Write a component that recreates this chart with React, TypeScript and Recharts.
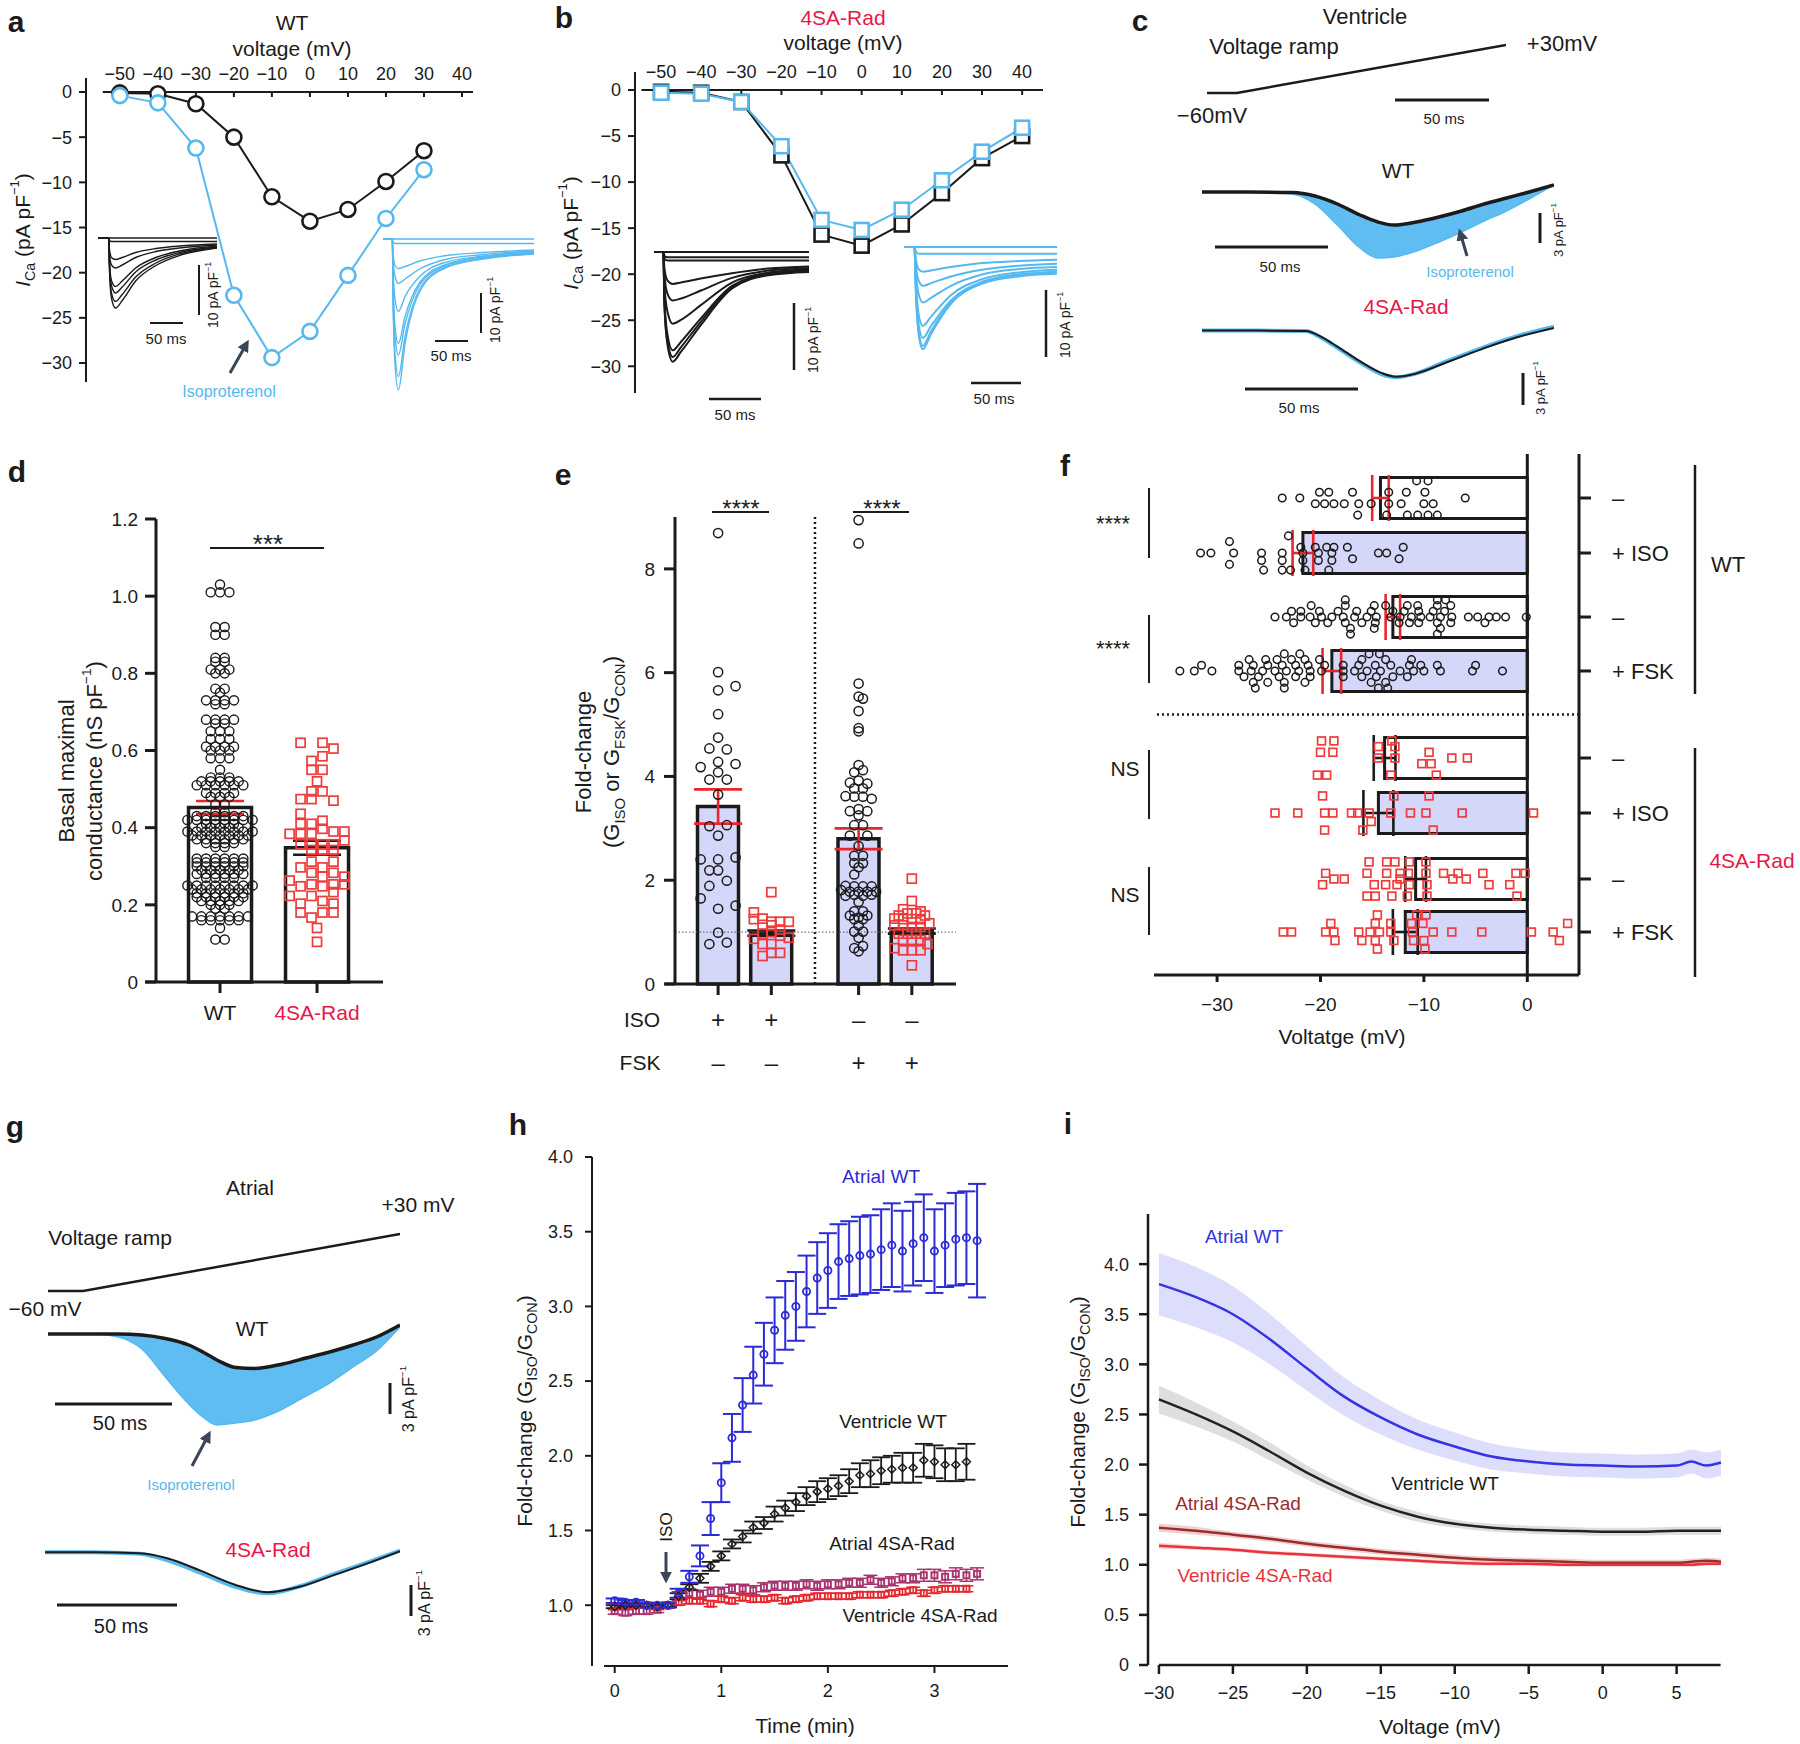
import React from 'react';
import {
  ComposedChart, LineChart, Line, Bar, Cell, Scatter, Area, XAxis, YAxis, ErrorBar, ReferenceLine,
} from 'recharts';

const FONT = '"Liberation Sans", Arial, Helvetica, sans-serif';
const INK = '#1b1b1b';
const SKY = '#55b9ef';
const RED = '#e8174a';
const SQ = '#ef3b3b';
const ERR_RED = '#e8262b';
const LAV = '#d4d7fa';
const ARROW = '#3a4656';

// ---------- a / b : I-V relations
const ivTicks = [-50, -40, -30, -20, -10, 0, 10, 20, 30, 40];
const ivYTicks = [0, -5, -10, -15, -20, -25, -30];
const aVolt = [-50, -40, -30, -20, -10, 0, 10, 20, 30];
const aWtCtrl = [-0.1, -0.2, -1.3, -5.0, -11.6, -14.3, -13.0, -9.9, -6.5];
const aWtIso = [-0.4, -1.2, -6.2, -22.5, -29.4, -26.5, -20.3, -14.0, -8.6];
const bVolt = [-50, -40, -30, -20, -10, 0, 10, 20, 30, 40];
const bRadCtrl = [-0.2, -0.3, -1.3, -7.1, -15.7, -16.9, -14.6, -11.2, -7.4, -5.0];
const bRadIso = [-0.3, -0.4, -1.3, -6.1, -14.1, -15.2, -13.0, -9.8, -6.7, -4.1];

// inset current traces (pA/pF) sampled at the times below (ms)
const aBlackTime = [0, 16, 17, 20, 26, 36, 56, 86, 121, 177];
const aBlackTraces = [
  [0, 0, 0, 0, 0, 0, 0, 0, 0, 0],
  [0, 0, -0.5, -0.7, -0.7, -0.7, -0.7, -0.7, -0.7, -0.7],
  [0, 0, -2.2, -3.9, -4.3, -3.9, -2.9, -2.1, -1.6, -1.2],
  [0, 0, -3, -5.4, -6, -5.4, -3.9, -2.7, -2, -1.4],
  [0, 0, -4.5, -8.5, -9.7, -8.6, -6, -3.9, -2.6, -1.6],
  [0, 0, -5, -9.5, -11, -9.8, -6.8, -4.4, -2.9, -1.8],
  [0, 0, -5.5, -11, -12.7, -11.3, -7.8, -5, -3.2, -1.9],
  [0, 0, -6, -12, -14, -12.5, -8.6, -5.5, -3.5, -2.0],
];
const aBlueTime = [0, 14, 15, 18, 23, 33, 55, 90, 150, 226];
const aBlueTraces = [
  [0, 0, 0, 0, 0, 0, 0, 0, 0, 0],
  [0, 0, -0.6, -0.9, -0.9, -0.9, -0.9, -0.9, -0.9, -0.9],
  [0, 0, -3, -5.3, -5.9, -5.5, -4.4, -3.4, -2.7, -2.2],
  [0, 0, -4, -7.5, -8.9, -8, -6, -4.2, -3.1, -2.4],
  [0, 0, -6, -12, -14.5, -11.5, -7.5, -4.8, -3.4, -2.6],
  [0, 0, -8, -17.5, -20.9, -15.5, -8.7, -5.3, -3.6, -2.7],
  [0, 0, -9, -19.5, -23.2, -17, -9.2, -5.5, -3.7, -2.8],
  [0, 0, -11, -23, -27.5, -19.5, -10, -5.8, -3.9, -2.9],
  [0, 0, -12, -25, -30.2, -21, -10.5, -6, -4, -3],
];
const bBlackTime = [0, 9, 10, 13, 18, 26, 45, 75, 110, 149];
const bBlackTraces = [
  [0, 0, 0, 0, 0, 0, 0, 0, 0, 0],
  [0, 0, -0.6, -0.8, -0.8, -0.8, -0.8, -0.8, -0.8, -0.8],
  [0, 0, -1, -1.3, -1.3, -1.3, -1.3, -1.3, -1.3, -1.3],
  [0, 0, -2.5, -4.3, -4.8, -4.6, -4, -3.2, -2.5, -2.2],
  [0, 0, -3.5, -6.3, -7.3, -7, -5.8, -3.9, -2.8, -2.4],
  [0, 0, -5, -9, -10.8, -10.2, -8, -4.6, -3.1, -2.6],
  [0, 0, -7, -12.5, -14.8, -13.5, -10, -5.1, -3.3, -2.8],
  [0, 0, -7.5, -13.5, -15.8, -14.3, -10.5, -5.3, -3.4, -2.9],
  [0, 0, -8, -14, -16.5, -15, -11, -5.5, -3.5, -3.0],
];
const bBlueTime = [0, 10, 11.5, 14, 18, 26, 45, 75, 110, 147];
const bBlueTraces = [
  [0, 0, 0, 0, 0, 0, 0, 0, 0, 0],
  [0, 0, -0.7, -1, -1, -1, -1, -1, -1, -1],
  [0, 0, -2, -3.3, -3.7, -3.5, -3, -2.4, -2.1, -1.9],
  [0, 0, -3, -5, -5.8, -5.4, -4.4, -3.4, -2.8, -2.5],
  [0, 0, -4, -7, -8.3, -7.6, -5.8, -4.1, -3.3, -3.0],
  [0, 0, -5.5, -10, -11.8, -10.4, -7.2, -4.8, -3.8, -3.4],
  [0, 0, -6.5, -11.5, -13.6, -11.8, -8, -5.2, -4.1, -3.7],
  [0, 0, -7, -12.5, -14.8, -12.6, -8.3, -5.4, -4.3, -3.9],
  [0, 0, -7, -13, -15.3, -13, -8.5, -5.5, -4.4, -4.0],
];

// ---------- c / g : voltage ramp and ramp currents
const rampTime = [0, 10, 100];
const rampVolt = [-60, -60, 30];
const cWtTime = [0, 20, 40, 50, 60, 70, 78, 85, 95, 105, 115, 125, 135, 145, 156];
const cWtCtrl = [0, 0, -0.05, -0.4, -1.2, -2.3, -3.0, -3.3, -3.0, -2.5, -1.9, -1.2, -0.6, 0.0, 0.7];
const cWtIso = [0, 0, -0.2, -1.2, -3.3, -5.6, -6.6, -6.5, -5.9, -5.0, -4.0, -2.9, -1.9, -0.7, 0.7];
const cRadTime = [0, 20, 46, 53, 60, 71, 80, 86, 95, 108, 118, 127, 140, 156];
const cRadCtrl = [0, 0, -0.05, -0.6, -1.5, -3.0, -4.0, -4.3, -4.0, -3.0, -2.2, -1.5, -0.6, 0.25];
const cRadIso = [0, 0, -0.05, -0.7, -1.6, -3.1, -4.1, -4.35, -4.0, -2.9, -2.1, -1.4, -0.5, 0.35];
const gWtTime = [0, 20, 30, 40, 50, 60, 66, 72, 80, 88, 100, 110, 120, 130, 140, 150];
const gWtCtrl = [0, 0, 0, -0.1, -0.45, -1.1, -1.8, -2.6, -3.35, -3.45, -3.0, -2.4, -1.8, -1.1, -0.3, 0.9];
const gWtIso = [0, 0, -0.3, -1.5, -4.3, -7.0, -8.3, -9.1, -8.9, -8.6, -7.5, -6.2, -4.9, -3.3, -1.7, 0.7];
const gRadTime = [0, 20, 40, 52, 66, 80, 94, 108, 122, 136, 150];
const gRadCtrl = [0, 0, -0.1, -0.6, -1.8, -3.1, -3.85, -3.3, -2.2, -1.1, 0.1];
const gRadIso = [0, 0, -0.15, -0.8, -2.0, -3.3, -3.95, -3.25, -2.1, -1.0, 0.15];

// ---------- d : basal maximal conductance
const dCats = ['WT', '4SA-Rad'];
const dMean = [0.452, 0.348];
const dSem = [0.017, 0.018];
// WT cells: [conductance, number of cells at that level]
const dWtRows = [
  [1.03, 1], [1.01, 3], [0.92, 2], [0.90, 2], [0.84, 2], [0.83, 2], [0.81, 3], [0.80, 2], [0.76, 2], [0.75, 1],
  [0.73, 4], [0.72, 2], [0.68, 4], [0.67, 2], [0.65, 3], [0.63, 3], [0.61, 4], [0.60, 3], [0.58, 3], [0.55, 1],
  [0.53, 3], [0.52, 5], [0.51, 6], [0.49, 4], [0.48, 3], [0.46, 2], [0.44, 2], [0.43, 6], [0.42, 8], [0.41, 4],
  [0.40, 5], [0.39, 8], [0.38, 7], [0.37, 6], [0.36, 4], [0.35, 2], [0.32, 6], [0.31, 6], [0.30, 6], [0.29, 5],
  [0.28, 6], [0.27, 4], [0.25, 8], [0.24, 7], [0.23, 6], [0.22, 6], [0.21, 5], [0.20, 3], [0.19, 2], [0.17, 7],
  [0.16, 5], [0.14, 1], [0.11, 2],
];
// 4SA-Rad cells: [conductance, column]
const dRadCells = [
  [0.62, -1.5], [0.62, 0.5], [0.605, 1.5], [0.585, 0.5], [0.573, -0.5], [0.55, -0.5], [0.55, 0.5], [0.52, 0],
  [0.494, -0.5], [0.494, 0.5], [0.474, -1.5], [0.474, -0.5], [0.47, 1.5], [0.436, -1.5], [0.418, 0.5], [0.41, -1.5],
  [0.41, -0.5], [0.397, 0.5], [0.39, 1.5], [0.39, 2.5], [0.384, -2.5], [0.384, -1.5], [0.384, -0.5], [0.367, 2.5],
  [0.357, -1.5], [0.357, -0.5], [0.357, 0.5], [0.357, 1.5], [0.342, -0.5], [0.342, 0.5], [0.342, 1.5], [0.312, -0.5],
  [0.312, 1.5], [0.297, -1.5], [0.297, 0.5], [0.283, -0.5], [0.283, 1.5], [0.273, 0.5], [0.273, 2.5], [0.263, -2.5],
  [0.253, -0.5], [0.253, 1.5], [0.253, 2.5], [0.248, -1.5], [0.248, 0.5], [0.233, 1.5], [0.223, -2.5], [0.223, -0.5],
  [0.21, 0.5], [0.203, -1.5], [0.203, 1.5], [0.18, -1.5], [0.18, 0.5], [0.18, 1.5], [0.167, -0.5], [0.14, 0], [0.104, 0],
];

// ---------- e : fold change of conductance
const eIso = ['+', '+', '\u2013', '\u2013'];
const eFsk = ['\u2013', '\u2013', '+', '+'];
const eMean = [3.42, 0.98, 2.8, 1.02];
const eSem = [0.33, 0.05, 0.2, 0.05];
const eWtIso = [
  [8.69, 0], [6.01, 0], [5.74, 2], [5.66, 0], [5.2, 0], [4.75, 0], [4.54, -1], [4.52, 1], [4.28, 0], [4.24, 2],
  [4.18, -2], [4.08, 0], [3.94, -1], [3.94, 1], [3.65, 0], [3.04, -1], [3.06, 1], [2.86, 0], [2.44, 2], [2.4, -2],
  [2.4, 0], [2.19, -1], [2.19, 0], [1.99, 1], [1.89, -1], [1.65, -2], [1.51, 2], [1.45, 0], [0.99, 0], [0.77, -1], [0.8, 1],
];
const eRadIso = [
  [1.77, 0], [1.38, -2], [1.25, -2], [1.26, -1], [1.2, 0], [1.2, 1], [1.2, 2], [1.14, -1], [1.13, 0], [0.87, -2],
  [0.97, -1], [0.93, 1], [0.89, 2], [0.77, -1], [0.77, 0], [0.6, 1], [0.6, 0], [0.54, -1], [1.05, 1], [1.0, 0],
];
const eWtFsk = [
  [8.94, 0], [8.49, 0], [5.79, 0], [5.54, 0], [5.5, 0.5], [5.26, 0], [4.93, 0], [4.87, 0], [4.22, 0], [4.12, 0.5],
  [4.08, -0.5], [3.92, 0], [3.88, -1], [3.86, 1], [3.77, -0.5], [3.77, 0.5], [3.62, -1.5], [3.61, -0.5], [3.61, 0.5],
  [3.57, 1.5], [3.37, 0], [3.33, -1], [3.33, 1], [3.25, 0], [3.06, -0.5], [3.06, 0.5], [2.86, -1], [2.86, 1], [2.66, 0],
  [2.47, -0.5], [2.47, 0.5], [2.33, -0.5], [2.33, 0.5], [2.25, 0], [2.11, -0.5], [1.89, -1.5], [1.88, -0.5], [1.88, 0.5],
  [1.88, 1.5], [1.81, -2], [1.78, -1], [1.78, 0], [1.78, 1], [1.78, 2], [1.7, -1.5], [1.72, -0.5], [1.7, 0.5],
  [1.72, 1.5], [1.58, 0], [1.4, -0.5], [1.4, 0.5], [1.32, -1], [1.28, 0], [1.32, 1], [1.25, -0.5], [1.25, 0.5],
  [1.13, 0], [1.01, -0.5], [1.01, 0.5], [0.89, 0], [0.69, -0.5], [0.73, 0.5], [0.63, 0],
];
const eRadFsk = [
  [2.03, 0], [1.6, 0], [1.44, -1], [1.4, 1], [1.32, -1.5], [1.36, -0.5], [1.36, 0.5], [1.32, 1.5], [1.26, -2],
  [1.25, -1], [1.25, 0], [1.25, 1], [1.17, 2], [1.13, -2], [1.13, -1], [1.1, 0], [1.1, 1], [0.97, -1.5], [0.97, -0.5],
  [0.97, 0.5], [0.97, 1.5], [0.85, -1], [0.85, 0], [0.85, 1], [0.77, 1.8], [0.69, -2], [0.65, -1], [0.65, 0],
  [0.65, 1], [0.36, 0],
];

// ---------- f : half-activation voltage, [mV, vertical offset]
const fRowLabels = ['\u2013', '+ ISO', '\u2013', '+ FSK', '\u2013', '+ ISO', '\u2013', '+ FSK'];
const fMean = [-14.2, -21.7, -13.0, -18.9, -13.8, -14.4, -10.8, -11.8];
const fSem = [0.8, 1.0, 0.7, 0.9, 1.05, 1.45, 1.0, 1.2];
const fWtCtrlIso = [[-10.7, -3], [-9.6, -3], [-20.1, -1], [-19.2, -1], [-16.9, -1], [-13.4, -1], [-11.7, -1], [-9.9, -1], [-23.7, 0], [-22.0, 0], [-6.0, 0], [-20.5, 1], [-19.6, 1], [-18.7, 1], [-17.7, 1], [-16.3, 1], [-15.1, 1], [-13.4, 1], [-12.2, 1], [-10.0, 1], [-9.1, 1], [-16.4, 3], [-13.6, 3], [-11.6, 3], [-10.6, 3], [-9.6, 3], [-8.7, 3]];
const fWtIso = [[-23.1, -3], [-28.8, -2], [-21.9, -1], [-20.5, -1], [-19.4, -1], [-18.7, -1], [-17.4, -1], [-12.0, -1], [-31.6, 0], [-30.6, 0], [-28.4, 0], [-25.7, 0], [-23.7, 0], [-21.7, 0], [-20.2, 0], [-18.9, 0], [-14.4, 0], [-13.6, 0], [-12.4, 1], [-16.9, 1], [-18.9, 1.3], [-20.2, 1.3], [-21.7, 1.3], [-23.7, 1.3], [-25.7, 1.3], [-28.8, 2], [-25.5, 3], [-23.7, 3], [-22.9, 3], [-21.5, 3], [-19.2, 3]];
const fWtCtrlFsk = [[-17.6, -3], [-8.7, -3], [-7.9, -3], [-20.9, -2], [-17.6, -2], [-14.8, -2], [-13.7, -2], [-11.6, -2], [-10.6, -2], [-8.7, -2], [-7.4, -2], [-22.8, -1], [-21.9, -1], [-20.1, -1], [-18.3, -1], [-16.5, -1], [-15.1, -1], [-13.0, -1], [-11.9, -1], [-10.5, -1], [-9.1, -1], [-8.0, -1], [-24.4, 0], [-23.3, 0], [-21.9, 0], [-21.0, 0], [-19.9, 0], [-18.9, 0], [-17.8, 0], [-16.7, 0], [-15.5, 0], [-14.6, 0], [-13.2, 0], [-12.3, 0], [-11.2, 0], [-10.3, 0], [-9.4, 0], [-8.4, 0], [-7.3, 0], [-5.7, 0], [-4.8, 0], [-3.7, 0], [-3.0, 0], [-2.1, 0], [-0.1, 0], [-22.6, 1], [-20.5, 1], [-19.3, 1], [-17.6, 1], [-16.0, 1], [-14.7, 1], [-12.4, 1], [-11.4, 1], [-10.5, 1], [-8.7, 1], [-7.4, 1], [-4.1, 1], [-17.1, 2], [-14.8, 2], [-8.4, 2], [-17.1, 3], [-8.7, 3]];
const fWtFsk = [[-23.5, -3], [-22.0, -3], [-15.3, -3], [-14.3, -3], [-26.9, -2], [-25.3, -2], [-24.2, -2], [-22.8, -2], [-21.5, -2], [-20.1, -2], [-16.0, -2], [-13.7, -2], [-11.2, -2], [-31.5, -1], [-27.9, -1], [-26.5, -1], [-25.1, -1], [-23.7, -1], [-22.4, -1], [-21.2, -1], [-19.6, -1], [-17.8, -1], [-16.3, -1], [-14.7, -1], [-13.2, -1], [-11.4, -1], [-10.3, -1], [-8.7, -1], [-5.0, -1], [-33.6, 0], [-32.2, 0], [-30.5, 0], [-27.9, 0], [-26.7, 0], [-25.6, 0], [-24.4, 0], [-23.3, 0], [-22.1, 0], [-21.0, 0], [-19.9, 0], [-17.8, 0], [-16.7, 0], [-15.5, 0], [-14.2, 0], [-12.3, 0], [-11.0, 0], [-10.0, 0], [-8.4, 0], [-5.3, 0], [-2.4, 0], [-27.4, 1], [-26.0, 1], [-24.0, 1], [-22.4, 1], [-21.0, 1], [-17.8, 1], [-16.0, 1], [-14.6, 1], [-13.0, 1], [-11.6, 1], [-26.5, 2], [-25.1, 2], [-23.5, 2], [-21.5, 2], [-15.1, 2], [-13.7, 2], [-26.3, 3], [-23.5, 3], [-14.4, 3], [-13.5, 3]];
const fRadCtrlIso = [[-19.9, -3], [-18.7, -3], [-13.1, -3], [-14.4, -2], [-12.8, -2], [-20.0, -1], [-18.8, -1], [-9.5, -1], [-14.4, 0], [-12.8, 0], [-7.3, 0], [-5.8, 0], [-10.2, 1], [-9.3, 1], [-20.3, 3], [-19.4, 3], [-13.2, 3], [-8.8, 3]];
const fRadIso = [[-19.8, -3], [-12.9, -3], [-9.5, -3], [-24.4, 0], [-22.2, 0], [-19.6, 0], [-18.8, 0], [-17.0, 0], [-16.4, 0], [-15.3, 0], [-13.2, 0], [-11.3, 0], [-9.8, 0], [-6.3, 0], [0.6, 0], [-15.1, 1.5], [-19.6, 3], [-15.9, 3], [-9.1, 3]];
const fRadCtrlFsk = [[-15.3, -3], [-13.6, -3], [-12.8, -3], [-11.4, -3], [-9.8, -3], [-19.5, -1], [-15.5, -1], [-13.6, -1], [-12.3, -1], [-11.5, -1], [-9.8, -1], [-8.1, -1], [-6.7, -1], [-4.3, -1], [-1.1, -1], [-0.2, -1], [-18.7, 0], [-17.7, 0], [-12.3, 0], [-7.2, 0], [-5.9, 0], [-19.8, 1], [-14.8, 1], [-13.7, 1], [-12.6, 1], [-11.4, 1], [-9.7, 1], [-3.7, 1], [-1.7, 1], [-15.5, 3], [-14.7, 3], [-13.1, 3], [-11.6, 3], [-9.7, 3], [-1.0, 3]];
const fRadFsk = [[-14.5, -3], [-10.7, -3], [-9.8, -3], [-19.0, -1.5], [-14.7, -1.5], [-13.2, -1.5], [-11.2, -1.5], [-10.1, -1.5], [3.9, -1.5], [-23.6, 0], [-22.8, 0], [-19.5, 0], [-18.7, 0], [-16.3, 0], [-15.2, 0], [-14.3, 0], [-13.2, 0], [-11.1, 0], [-9.1, 0], [-7.3, 0], [-4.4, 0], [0.4, 0], [2.5, 0], [-18.6, 1.5], [-16.0, 1.5], [-14.7, 1.5], [-12.9, 1.5], [-11.0, 1.5], [-10.0, 1.5], [3.1, 1.5], [-14.5, 3], [-9.9, 3]];

// ---------- h : time course
const hTime = [0, 0.1, 0.2, 0.3, 0.4, 0.5, 0.6, 0.7, 0.8, 0.9, 1.0, 1.1, 1.2, 1.3, 1.4, 1.5, 1.6, 1.7, 1.8, 1.9, 2.0, 2.1, 2.2, 2.3, 2.4, 2.5, 2.6, 2.7, 2.8, 2.9, 3.0, 3.1, 3.2, 3.3, 3.4];
const hAtrialWt = [1.03, 1.02, 1.02, 1.0, 1.0, 1.0, 1.08, 1.19, 1.33, 1.58, 1.82, 2.12, 2.34, 2.54, 2.68, 2.84, 2.94, 3.0, 3.1, 3.19, 3.24, 3.3, 3.32, 3.34, 3.35, 3.38, 3.41, 3.37, 3.42, 3.46, 3.37, 3.41, 3.45, 3.46, 3.44];
const hAtrialWtSem = [0.015, 0.015, 0.015, 0.015, 0.015, 0.015, 0.03, 0.04, 0.07, 0.11, 0.13, 0.16, 0.18, 0.19, 0.21, 0.22, 0.23, 0.23, 0.24, 0.24, 0.25, 0.25, 0.25, 0.26, 0.26, 0.27, 0.28, 0.27, 0.28, 0.29, 0.28, 0.28, 0.31, 0.31, 0.38];
const hVentWt = [0.99, 1.0, 1.0, 1.0, 0.99, 1.0, 1.06, 1.12, 1.18, 1.26, 1.33, 1.41, 1.46, 1.52, 1.55, 1.61, 1.65, 1.69, 1.73, 1.76, 1.78, 1.8, 1.83, 1.87, 1.88, 1.9, 1.91, 1.92, 1.92, 1.97, 1.96, 1.94, 1.94, 1.96];
const hVentWtSem = [0.01, 0.01, 0.01, 0.01, 0.01, 0.01, 0.02, 0.02, 0.03, 0.03, 0.03, 0.03, 0.04, 0.04, 0.04, 0.05, 0.05, 0.06, 0.06, 0.07, 0.07, 0.07, 0.08, 0.08, 0.09, 0.09, 0.09, 0.1, 0.1, 0.11, 0.11, 0.11, 0.11, 0.12];
const hAtrialRad = [0.96, 0.95, 0.96, 0.96, 0.97, 1.0, 1.06, 1.08, 1.07, 1.09, 1.09, 1.11, 1.11, 1.1, 1.12, 1.13, 1.13, 1.13, 1.14, 1.13, 1.14, 1.14, 1.15, 1.15, 1.17, 1.15, 1.16, 1.18, 1.18, 1.2, 1.2, 1.19, 1.21, 1.2, 1.21];
const hAtrialRadSem = [0.02, 0.02, 0.02, 0.02, 0.02, 0.02, 0.03, 0.03, 0.03, 0.03, 0.03, 0.03, 0.03, 0.03, 0.03, 0.03, 0.03, 0.03, 0.03, 0.03, 0.03, 0.03, 0.03, 0.03, 0.03, 0.03, 0.03, 0.03, 0.03, 0.04, 0.04, 0.04, 0.04, 0.04, 0.04];
const hVentRad = [0.99, 1.0, 1.0, 1.0, 0.99, 1.0, 1.02, 1.03, 1.03, 1.01, 1.04, 1.03, 1.05, 1.04, 1.04, 1.05, 1.03, 1.04, 1.05, 1.06, 1.06, 1.06, 1.06, 1.07, 1.07, 1.07, 1.08, 1.09, 1.1, 1.08, 1.1, 1.11, 1.11, 1.11];
const hVentRadSem = [0.02, 0.02, 0.02, 0.02, 0.02, 0.02, 0.02, 0.02, 0.02, 0.02, 0.02, 0.02, 0.02, 0.02, 0.02, 0.02, 0.02, 0.02, 0.02, 0.02, 0.02, 0.02, 0.02, 0.02, 0.02, 0.02, 0.02, 0.02, 0.02, 0.02, 0.02, 0.02, 0.02, 0.02];

// ---------- i : fold change vs voltage
const iVolt = [-30, -27.5, -25, -22.5, -20, -17.5, -15, -12.5, -10, -7.5, -5, -2.5, 0, 2.5, 5, 6, 7, 8];
const iAtrialWt = [3.8, 3.67, 3.5, 3.25, 2.96, 2.68, 2.47, 2.3, 2.18, 2.08, 2.03, 2.0, 1.99, 1.98, 1.99, 2.03, 1.99, 2.02];
const iAtrialWtSem = [0.31, 0.3, 0.28, 0.25, 0.22, 0.19, 0.17, 0.15, 0.14, 0.13, 0.12, 0.12, 0.12, 0.12, 0.12, 0.12, 0.13, 0.13];
const iVentWt = [2.65, 2.5, 2.33, 2.13, 1.92, 1.74, 1.59, 1.48, 1.41, 1.37, 1.35, 1.34, 1.33, 1.33, 1.34, 1.34, 1.34, 1.34];
const iVentWtSem = [0.14, 0.12, 0.1, 0.09, 0.07, 0.06, 0.05, 0.05, 0.04, 0.04, 0.04, 0.04, 0.04, 0.04, 0.04, 0.04, 0.04, 0.04];
const iAtrialRad = [1.37, 1.34, 1.3, 1.26, 1.21, 1.17, 1.13, 1.1, 1.07, 1.05, 1.04, 1.03, 1.02, 1.02, 1.02, 1.03, 1.04, 1.03];
const iAtrialRadSem = [0.04, 0.04, 0.03, 0.03, 0.03, 0.03, 0.03, 0.03, 0.03, 0.03, 0.03, 0.03, 0.03, 0.03, 0.03, 0.03, 0.03, 0.03];
const iVentRad = [1.19, 1.17, 1.15, 1.12, 1.1, 1.08, 1.06, 1.04, 1.02, 1.01, 1.01, 1.0, 1.0, 1.0, 1.0, 1.0, 1.01, 1.01];
const iVentRadSem = [0.03, 0.02, 0.02, 0.02, 0.02, 0.02, 0.02, 0.02, 0.02, 0.02, 0.02, 0.02, 0.02, 0.02, 0.02, 0.02, 0.02, 0.02];

// ---------- helpers
const minus = (v: number) => (v < 0 ? '\u2212' + Math.abs(v) : String(v));
const tk = (s: number) => ({ fontSize: s, fill: INK, fontFamily: FONT });
const line = (w: number) => ({ stroke: INK, strokeWidth: w });

const ring = (r: number, c: string, w: number) => (p: any) =>
  <circle cx={p.cx} cy={p.cy} r={r} fill="none" stroke={c} strokeWidth={w} />;
const box = (s: number, c: string, w: number) => (p: any) =>
  <rect x={p.cx - s / 2} y={p.cy - s / 2} width={s} height={s} fill="none" stroke={c} strokeWidth={w} />;
const diamond = (s: number, c: string, w: number) => (p: any) =>
  <path d={`M${p.cx},${p.cy - s}L${p.cx + s},${p.cy}L${p.cx},${p.cy + s}L${p.cx - s},${p.cy}Z`} fill="none" stroke={c} strokeWidth={w} />;
const blank = () => <g />;

function Frame({ l, t, w, h, children }: any) {
  return <div style={{ position: 'absolute', left: l, top: t, width: w, height: h }}>{children}</div>;
}

function IvPanel({ plot, xDomain, lineFrom, yBottom, volts, ctrl, iso, square }: any) {
  const yw = 70, xh = 40;
  const w = plot.r - plot.l + yw + 10, h = plot.b - plot.t + xh + 10;
  const rows = volts.map((v: number, i: number) => ({ v, ctrl: ctrl[i], iso: iso[i] }));
  const mk = (c: string) => (p: any) => square
    ? <rect key={c + p.index} x={p.cx - 7} y={p.cy - 7} width={14} height={14} fill="#fff" stroke={c} strokeWidth={2.6} />
    : <circle key={c + p.index} cx={p.cx} cy={p.cy} r={7.5} fill="#fff" stroke={c} strokeWidth={2.6} />;
  return (
    <Frame l={plot.l - yw} t={plot.t - xh} w={w} h={h}>
      <ComposedChart width={w} height={h} data={rows} margin={{ top: 0, right: 10, bottom: 10, left: 0 }}>
        <XAxis dataKey="v" type="number" orientation="top" height={xh} domain={xDomain} ticks={ivTicks} interval={0}
          axisLine={false} tickSize={-5} tickMargin={17} tickLine={line(2)} tick={tk(18)} tickFormatter={minus} />
        <YAxis type="number" width={yw} domain={[yBottom, 0]} ticks={ivYTicks} interval={0} tickSize={7} tickMargin={7}
          axisLine={line(2)} tickLine={line(2)} tick={tk(18)} tickFormatter={minus} />
        <ReferenceLine segment={[{ x: lineFrom, y: 0 }, { x: xDomain[1], y: 0 }]} stroke={INK} strokeWidth={2} ifOverflow="visible" />
        <Line dataKey="ctrl" type="linear" stroke={INK} strokeWidth={2} dot={mk(INK)} isAnimationActive={false} />
        <Line dataKey="iso" type="linear" stroke={SKY} strokeWidth={2} dot={mk(SKY)} isAnimationActive={false} />
      </ComposedChart>
    </Frame>
  );
}

function TraceBox({ l, t, w, h, time, tMax, vDomain, traces, color, sw }: any) {
  const rows = time.map((tt: number, i: number) => {
    const r: any = { t: tt };
    traces.forEach((tr: number[], k: number) => { r['s' + k] = tr[i]; });
    return r;
  });
  return (
    <Frame l={l} t={t} w={w} h={h}>
      <LineChart width={w} height={h} data={rows} margin={{ top: 0, right: 0, bottom: 0, left: 0 }}>
        <XAxis dataKey="t" type="number" domain={[0, tMax]} hide />
        <YAxis type="number" domain={vDomain} hide />
        {traces.map((_: any, k: number) => (
          <Line key={k} dataKey={'s' + k} type="monotone" stroke={color} strokeWidth={sw} dot={false} isAnimationActive={false} />
        ))}
      </LineChart>
    </Frame>
  );
}

function RampBox({ l, t, w, h, time, tMax, vDomain, ctrl, iso, filled }: any) {
  const rows = time.map((tt: number, i: number) => ({ t: tt, ctrl: ctrl[i], iso: iso[i], band: [iso[i], ctrl[i]] }));
  return (
    <Frame l={l} t={t} w={w} h={h}>
      <ComposedChart width={w} height={h} data={rows} margin={{ top: 0, right: 0, bottom: 0, left: 0 }}>
        <XAxis dataKey="t" type="number" domain={[0, tMax]} hide />
        <YAxis type="number" domain={vDomain} hide />
        {filled && <Area dataKey="band" type="monotone" stroke="none" fill="#5fbdf1" fillOpacity={1} isAnimationActive={false} />}
        <Line dataKey="iso" type="monotone" stroke={SKY} strokeWidth={filled ? 1.5 : 4} dot={false} isAnimationActive={false} />
        <Line dataKey="ctrl" type="monotone" stroke={INK} strokeWidth={filled ? 3.5 : 2} dot={false} isAnimationActive={false} />
      </ComposedChart>
    </Frame>
  );
}

function VoltRamp({ l, t, w, h }: any) {
  const rows = rampTime.map((tt, i) => ({ t: tt, v: rampVolt[i] }));
  return (
    <Frame l={l} t={t} w={w} h={h}>
      <LineChart width={w} height={h} data={rows} margin={{ top: 2, right: 0, bottom: 2, left: 0 }}>
        <XAxis dataKey="t" type="number" domain={[0, 100]} hide />
        <YAxis type="number" domain={[-60, 30]} hide />
        <Line dataKey="v" type="linear" stroke={INK} strokeWidth={2.5} dot={false} isAnimationActive={false} />
      </LineChart>
    </Frame>
  );
}

// ---------- d
const D_COL = 0.096;
const dRows = dMean.map((m, i) => ({ x: i + 1, y: m, err: dSem[i] }));
const dWtPts = dWtRows.flatMap(([v, n]) => Array.from({ length: n }, (_, k) => ({ x: 1 + (k - (n - 1) / 2) * D_COL, y: v })));
const dRadPts = dRadCells.map(([v, c]) => ({ x: 2 + c * 0.113, y: v }));
const D_XDOM = [0.34, 2.68];

function PanelD() {
  const w = 307, h = 533;
  const tick = (p: any) => (
    <text x={p.x} y={p.y} dy="0.71em" textAnchor="middle" fontSize={21} fontFamily={FONT} fill={p.payload.value === 2 ? RED : INK}>
      {dCats[p.payload.value - 1]}
    </text>
  );
  return (
    <Frame l={86} t={509} w={w} h={h}>
      <ComposedChart width={w} height={h} data={dRows} margin={{ top: 10, right: 10, bottom: 0, left: 0 }}>
        <XAxis dataKey="x" type="number" domain={D_XDOM} ticks={[1, 2]} interval={0} height={60} axisLine={false}
          tickSize={11} tickMargin={12} tickLine={line(3)} tick={tick} />
        <XAxis xAxisId="pts" dataKey="x" type="number" domain={D_XDOM} hide />
        <YAxis dataKey="y" type="number" domain={[0, 1.2]} ticks={[0, 0.2, 0.4, 0.6, 0.8, 1.0, 1.2]} interval={0} width={70}
          tickSize={11} tickMargin={7} axisLine={line(3)} tickLine={line(3)} tick={tk(19)}
          tickFormatter={(v: number) => (v === 0 ? '0' : v.toFixed(1))} />
        <ReferenceLine segment={[{ x: 0.23, y: 0 }, { x: 2.68, y: 0 }]} stroke={INK} strokeWidth={3} ifOverflow="visible" />
        <Bar dataKey="y" barSize={63} fill="#fff" stroke={INK} strokeWidth={3.5} isAnimationActive={false} />
        <Scatter xAxisId="pts" data={dWtPts} shape={ring(4.6, INK, 1.4)} isAnimationActive={false} />
        <Scatter xAxisId="pts" data={dRadPts} shape={box(9, SQ, 1.7)} isAnimationActive={false} />
        <Scatter xAxisId="pts" data={[dRows[0]]} shape={blank} isAnimationActive={false}>
          <ErrorBar dataKey="err" direction="y" width={24} stroke={ERR_RED} strokeWidth={2.6} />
        </Scatter>
        <Scatter xAxisId="pts" data={[dRows[1]]} shape={blank} isAnimationActive={false}>
          <ErrorBar dataKey="err" direction="y" width={24} stroke={INK} strokeWidth={2.6} />
        </Scatter>
      </ComposedChart>
    </Frame>
  );
}

// ---------- e
const E_GAP = 0.64, E_COL = 0.164;
const eSlots = eMean.map((_, i) => 1 + i + (i >= 2 ? E_GAP : 0));
const eRows = eMean.map((m, i) => ({ x: eSlots[i], y: m, err: eSem[i] }));
const ePts = (cells: number[][], i: number) => cells.map(([v, c]) => ({ x: eSlots[i] + c * E_COL, y: v }));
const E_XDOM = [0.19, 5.47];

function PanelE() {
  const w = 351, h = 577;
  const tick = (p: any) => {
    const i = eSlots.indexOf(p.payload.value);
    return (
      <g fontSize={24} fontFamily={FONT} fill={INK} textAnchor="middle">
        <text x={p.x} y={p.y + 24} dominantBaseline="central">{eIso[i]}</text>
        <text x={p.x} y={p.y + 67} dominantBaseline="central">{eFsk[i]}</text>
      </g>
    );
  };
  return (
    <Frame l={615} t={507} w={w} h={h}>
      <ComposedChart width={w} height={h} data={eRows} margin={{ top: 10, right: 10, bottom: 0, left: 0 }}>
        <XAxis dataKey="x" type="number" domain={E_XDOM} ticks={eSlots} interval={0} height={100} axisLine={false}
          tickSize={11} tickMargin={0} tickLine={line(3)} tick={tick} />
        <XAxis xAxisId="pts" dataKey="x" type="number" domain={E_XDOM} hide />
        <YAxis dataKey="y" type="number" domain={[0, 9]} ticks={[0, 2, 4, 6, 8]} interval={0} width={60}
          tickSize={11} tickMargin={9} axisLine={line(3)} tickLine={line(3)} tick={tk(19)} />
        <ReferenceLine segment={[{ x: 0.0, y: 0 }, { x: 5.47, y: 0 }]} stroke={INK} strokeWidth={3} ifOverflow="visible" />
        <Bar dataKey="y" barSize={41} fill={LAV} stroke={INK} strokeWidth={3.5} isAnimationActive={false} />
        <ReferenceLine x={(eSlots[1] + eSlots[2]) / 2} stroke={INK} strokeWidth={2.5} strokeDasharray="2 3" />
        <ReferenceLine y={1} stroke="#555" strokeWidth={1} strokeDasharray="1.5 2" />
        <Scatter xAxisId="pts" data={ePts(eWtIso, 0)} shape={ring(4.6, INK, 1.5)} isAnimationActive={false} />
        <Scatter xAxisId="pts" data={ePts(eRadIso, 1)} shape={box(9, SQ, 1.7)} isAnimationActive={false} />
        <Scatter xAxisId="pts" data={ePts(eWtFsk, 2)} shape={ring(4.6, INK, 1.5)} isAnimationActive={false} />
        <Scatter xAxisId="pts" data={ePts(eRadFsk, 3)} shape={box(9, SQ, 1.7)} isAnimationActive={false} />
        <Scatter xAxisId="pts" data={[eRows[0], eRows[2]]} shape={blank} isAnimationActive={false}>
          <ErrorBar dataKey="err" direction="y" width={24} stroke={ERR_RED} strokeWidth={2.6} />
        </Scatter>
        <Scatter xAxisId="pts" data={[eRows[1], eRows[3]]} shape={blank} isAnimationActive={false}>
          <ErrorBar dataKey="err" direction="y" width={24} stroke={INK} strokeWidth={2.6} />
        </Scatter>
      </ComposedChart>
    </Frame>
  );
}

// ---------- f
const fRowY = [44, 99, 163, 217, 304, 359, 425, 478]; // row centres on the chart's own vertical scale
const F_DY = 5.7;
const F_YDOM = [0, 521];
const fDots = [fWtCtrlIso, fWtIso, fWtCtrlFsk, fWtFsk, fRadCtrlIso, fRadIso, fRadCtrlFsk, fRadFsk];
const fRows = fMean.map((m, i) => ({ x: m, y: fRowY[i], err: fSem[i] }));
const fPts = (from: number, to: number) => fDots.slice(from, to).flatMap((pts, k) =>
  pts.map(([v, dy]) => ({ x: v, y: fRowY[from + k] + dy * F_DY })));

function PanelF() {
  const w = 635, h = 586;
  const tick = (p: any) => (
    <text x={p.x} y={p.y} dominantBaseline="central" textAnchor="start" fontSize={22} fontFamily={FONT} fill={INK}>
      {fRowLabels[fRowY.indexOf(p.payload.value)]}
    </text>
  );
  return (
    <Frame l={1144} t={444} w={w} h={h}>
      <ComposedChart layout="vertical" width={w} height={h} data={fRows} margin={{ top: 10, right: 0, bottom: 0, left: 10 }}>
        <XAxis dataKey="x" type="number" domain={[-36.1, 5]} ticks={[-30, -20, -10, 0]} interval={0} height={55}
          tickSize={7} tickMargin={16} axisLine={line(3)} tickLine={line(3)} tick={tk(19)} tickFormatter={minus} />
        <YAxis dataKey="y" type="number" orientation="right" domain={F_YDOM} ticks={fRowY} interval={0} width={200}
          tickSize={12} tickMargin={21} axisLine={line(3)} tickLine={line(3)} tick={tick} />
        <YAxis yAxisId="pts" dataKey="y" type="number" domain={F_YDOM} hide />
        <Bar dataKey="x" barSize={41} stroke={INK} strokeWidth={3} isAnimationActive={false}>
          {fRows.map((_, i) => <Cell key={i} fill={i % 2 ? LAV : '#fff'} />)}
        </Bar>
        <ReferenceLine x={0} stroke={INK} strokeWidth={3} />
        <ReferenceLine y={(fRowY[3] + fRowY[4]) / 2} stroke={INK} strokeWidth={2.5} strokeDasharray="2 3" />
        <Scatter yAxisId="pts" data={fPts(0, 4)} shape={ring(3.8, INK, 1.5)} isAnimationActive={false} />
        <Scatter yAxisId="pts" data={fPts(4, 8)} shape={box(7.8, SQ, 1.7)} isAnimationActive={false} />
        <Scatter yAxisId="pts" data={fRows.slice(0, 4)} shape={blank} isAnimationActive={false}>
          <ErrorBar dataKey="err" direction="x" width={23} stroke={ERR_RED} strokeWidth={2.6} />
        </Scatter>
        <Scatter yAxisId="pts" data={fRows.slice(4)} shape={blank} isAnimationActive={false}>
          <ErrorBar dataKey="err" direction="x" width={23} stroke={INK} strokeWidth={2.6} />
        </Scatter>
      </ComposedChart>
    </Frame>
  );
}

// ---------- h
const hPts = (vals: number[], sems: number[]) =>
  hTime.map((t, i) => ({ x: t, y: vals[i], err: sems[i] })).filter((d) => d.y != null);
const H_BLUE = '#2b2bd8', H_PURPLE = '#a8336e', H_RED = '#e5262d';

function PanelH() {
  const w = 496, h = 564;
  return (
    <Frame l={522} t={1147} w={w} h={h}>
      <ComposedChart width={w} height={h} margin={{ top: 10, right: 10, bottom: 0, left: 0 }}>
        <XAxis dataKey="x" type="number" domain={[-0.213, 3.69]} ticks={[0, 1, 2, 3]} interval={0} height={45}
          axisLine={false} tickSize={7} tickMargin={11} tickLine={line(2)} tick={tk(18)} />
        <YAxis dataKey="y" type="number" domain={[0.593, 4.0]} ticks={[1, 1.5, 2, 2.5, 3, 3.5, 4]} interval={0} width={70}
          tickSize={7} tickMargin={12} axisLine={line(2)} tickLine={line(2)} tick={tk(18)} tickFormatter={(v: number) => v.toFixed(1)} />
        <ReferenceLine segment={[{ x: -0.1, y: 0.593 }, { x: 3.69, y: 0.593 }]} stroke={INK} strokeWidth={2} ifOverflow="visible" />
        <Scatter data={hPts(hAtrialRad, hAtrialRadSem)} shape={box(6, H_PURPLE, 2)} isAnimationActive={false}>
          <ErrorBar dataKey="err" direction="y" width={7} stroke={H_PURPLE} strokeWidth={1.5} />
        </Scatter>
        <Scatter data={hPts(hVentRad, hVentRadSem)} shape={box(6, H_RED, 2)} isAnimationActive={false}>
          <ErrorBar dataKey="err" direction="y" width={7} stroke={H_RED} strokeWidth={1.5} />
        </Scatter>
        <Scatter data={hPts(hVentWt, hVentWtSem)} shape={diamond(4, INK, 1.5)} isAnimationActive={false}>
          <ErrorBar dataKey="err" direction="y" width={9} stroke={INK} strokeWidth={1.8} />
        </Scatter>
        <Scatter data={hPts(hAtrialWt, hAtrialWtSem)} shape={ring(3.6, H_BLUE, 1.8)} isAnimationActive={false}>
          <ErrorBar dataKey="err" direction="y" width={9} stroke={H_BLUE} strokeWidth={2} />
        </Scatter>
      </ComposedChart>
    </Frame>
  );
}

// ---------- i
const iRows = iVolt.map((v, k) => ({
  v,
  aw: iAtrialWt[k], awBand: [iAtrialWt[k] - iAtrialWtSem[k], iAtrialWt[k] + iAtrialWtSem[k]],
  vw: iVentWt[k], vwBand: [iVentWt[k] - iVentWtSem[k], iVentWt[k] + iVentWtSem[k]],
  ar: iAtrialRad[k], arBand: [iAtrialRad[k] - iAtrialRadSem[k], iAtrialRad[k] + iAtrialRadSem[k]],
  vr: iVentRad[k], vrBand: [iVentRad[k] - iVentRadSem[k], iVentRad[k] + iVentRadSem[k]],
}));
const I_BLUE = '#3434e2', I_BROWN = '#9c2b2b', I_RED = '#e8333a';

function PanelI() {
  const w = 653, h = 506;
  return (
    <Frame l={1078} t={1204} w={w} h={h}>
      <ComposedChart width={w} height={h} data={iRows} margin={{ top: 10, right: 10, bottom: 0, left: 0 }}>
        <XAxis dataKey="v" type="number" domain={[-30.74, 7.97]} ticks={[-30, -25, -20, -15, -10, -5, 0, 5]} interval={0}
          height={45} axisLine={false} tickSize={9} tickMargin={12} tickLine={line(2.5)} tick={tk(18)} tickFormatter={minus} />
        <YAxis type="number" domain={[0, 4.5]} ticks={[0, 0.5, 1, 1.5, 2, 2.5, 3, 3.5, 4]} interval={0} width={70}
          tickSize={9} tickMargin={10} axisLine={line(2.5)} tickLine={line(2.5)} tick={tk(18)}
          tickFormatter={(v: number) => (v === 0 ? '0' : v.toFixed(1))} />
        <ReferenceLine segment={[{ x: -30, y: 0 }, { x: 7.97, y: 0 }]} stroke={INK} strokeWidth={2.5} ifOverflow="visible" />
        <Area dataKey="awBand" type="monotone" stroke="none" fill="#d9d9fc" fillOpacity={0.9} isAnimationActive={false} />
        <Area dataKey="vwBand" type="monotone" stroke="none" fill="#dadada" fillOpacity={0.9} isAnimationActive={false} />
        <Area dataKey="arBand" type="monotone" stroke="none" fill="#ebc4c4" fillOpacity={0.8} isAnimationActive={false} />
        <Area dataKey="vrBand" type="monotone" stroke="none" fill="#f8c8c8" fillOpacity={0.8} isAnimationActive={false} />
        <Line dataKey="aw" type="monotone" stroke={I_BLUE} strokeWidth={2.5} dot={false} isAnimationActive={false} />
        <Line dataKey="vw" type="monotone" stroke="#222" strokeWidth={2.5} dot={false} isAnimationActive={false} />
        <Line dataKey="ar" type="monotone" stroke={I_BROWN} strokeWidth={2.5} dot={false} isAnimationActive={false} />
        <Line dataKey="vr" type="monotone" stroke={I_RED} strokeWidth={2.5} dot={false} isAnimationActive={false} />
      </ComposedChart>
    </Frame>
  );
}

// ---------- annotation layer
function Tx({ x, y, s = 20, c = INK, a = 'middle', b = false, r = 0, children }: any) {
  return (
    <text x={x} y={y} fontSize={s} fill={c} textAnchor={a} fontWeight={b ? 700 : 400} dominantBaseline="central"
      transform={r ? `rotate(${r} ${x} ${y})` : undefined}>{children}</text>
  );
}
const Sub = ({ children }: any) => <tspan baselineShift="sub" fontSize="68%">{children}</tspan>;
const Sup = ({ children }: any) => <tspan baselineShift="super" fontSize="62%">{children}</tspan>;
const Ln = ({ x1, y1, x2, y2, w = 2.5, c = INK }: any) => <line x1={x1} y1={y1} x2={x2} y2={y2} stroke={c} strokeWidth={w} />;
const Arrow = ({ x1, y1, x2, y2 }: any) =>
  <line x1={x1} y1={y1} x2={x2} y2={y2} stroke={ARROW} strokeWidth={3} markerEnd="url(#arrowHead)" />;
const PerPf = ({ n }: any) => <>{n} pA pF<Sup>{'\u22121'}</Sup></>;

function Overlay() {
  return (
    <svg width={1800} height={1744} style={{ position: 'absolute', left: 0, top: 0, pointerEvents: 'none' }} fontFamily={FONT}>
      <defs>
        <marker id="arrowHead" viewBox="0 0 10 10" refX="7" refY="5" markerWidth="4" markerHeight="4" orient="auto">
          <path d="M0,0 L10,5 L0,10 z" fill={ARROW} />
        </marker>
      </defs>
      {/* panel letters */}
      {[['a', 16, 21], ['b', 564, 17], ['c', 1140, 20], ['d', 17, 471], ['e', 563, 474], ['f', 1065, 465], ['g', 15, 1126], ['h', 518, 1124], ['i', 1068, 1123]]
        .map(([t, x, y]) => <Tx key={t as string} x={x} y={y} s={30} b>{t}</Tx>)}

      {/* a */}
      <Tx x={292} y={22} s={21}>WT</Tx>
      <Tx x={292} y={48} s={21}>voltage (mV)</Tx>
      <Ln x1={86} y1={78} x2={86} y2={92} w={2} />
      <Tx x={22} y={230} s={21} r={-90}><tspan fontStyle="italic">I</tspan><Sub>Ca</Sub> (pA pF<Sup>{'\u22121'}</Sup>)</Tx>
      <Ln x1={150} y1={323} x2={183} y2={323} w={2} />
      <Tx x={166} y={338} s={15}>50 ms</Tx>
      <Ln x1={199} y1={265} x2={199} y2={315} w={2} />
      <Tx x={213} y={295} s={14} r={-90}><PerPf n={10} /></Tx>
      <Ln x1={435} y1={341} x2={468} y2={341} w={2} />
      <Tx x={451} y={355} s={15}>50 ms</Tx>
      <Ln x1={481} y1={293} x2={481} y2={333} w={2} />
      <Tx x={495} y={310} s={14} r={-90}><PerPf n={10} /></Tx>
      <Arrow x1={230} y1={373} x2={247} y2={343} />
      <Tx x={229} y={391} s={16} c={SKY}>Isoproterenol</Tx>

      {/* b */}
      <Tx x={843} y={17} s={21} c={RED}>4SA-Rad</Tx>
      <Tx x={843} y={42} s={21}>voltage (mV)</Tx>
      <Ln x1={635} y1={72} x2={635} y2={90} w={2} />
      <Tx x={570} y={233} s={21} r={-90}><tspan fontStyle="italic">I</tspan><Sub>Ca</Sub> (pA pF<Sup>{'\u22121'}</Sup>)</Tx>
      <Ln x1={709} y1={399} x2={761} y2={399} w={2.5} />
      <Tx x={735} y={414} s={15}>50 ms</Tx>
      <Ln x1={794} y1={303} x2={794} y2={370} w={2.5} />
      <Tx x={813} y={340} s={14} r={-90}><PerPf n={10} /></Tx>
      <Ln x1={971} y1={383} x2={1021} y2={383} w={2.5} />
      <Tx x={994} y={398} s={15}>50 ms</Tx>
      <Ln x1={1046} y1={290} x2={1046} y2={357} w={2.5} />
      <Tx x={1065} y={325} s={14} r={-90}><PerPf n={10} /></Tx>

      {/* c */}
      <Tx x={1365} y={16} s={22}>Ventricle</Tx>
      <Tx x={1274} y={46} s={22}>Voltage ramp</Tx>
      <Tx x={1562} y={43} s={22}>+30mV</Tx>
      <Tx x={1212} y={115} s={22}>{'\u221260mV'}</Tx>
      <Ln x1={1395} y1={100} x2={1489} y2={100} w={3} />
      <Tx x={1444} y={118} s={15}>50 ms</Tx>
      <Tx x={1398} y={170} s={21}>WT</Tx>
      <Ln x1={1215} y1={247} x2={1328} y2={247} w={3} />
      <Tx x={1280} y={266} s={15}>50 ms</Tx>
      <Ln x1={1540} y1={213} x2={1540} y2={243} w={3} />
      <Tx x={1558} y={230} s={13} r={-90}><PerPf n={3} /></Tx>
      <Arrow x1={1467} y1={256} x2={1460} y2={232} />
      <Tx x={1470} y={271} s={15} c={SKY}>Isoproterenol</Tx>
      <Tx x={1406} y={306} s={21} c={RED}>4SA-Rad</Tx>
      <Ln x1={1245} y1={389} x2={1358} y2={389} w={3} />
      <Tx x={1299} y={407} s={15}>50 ms</Tx>
      <Ln x1={1523} y1={373} x2={1523} y2={405} w={3} />
      <Tx x={1540} y={388} s={13} r={-90}><PerPf n={3} /></Tx>

      {/* d */}
      <Tx x={268} y={544} s={26}>***</Tx>
      <Ln x1={210} y1={548} x2={324} y2={548} w={2} />
      <Tx x={66} y={771} s={22} r={-90}>Basal maximal</Tx>
      <Tx x={94} y={771} s={22} r={-90}>conductance (nS pF<Sup>{'\u22121'}</Sup>)</Tx>

      {/* e */}
      <Tx x={741} y={508} s={24}>****</Tx>
      <Ln x1={712} y1={512} x2={769} y2={512} w={2} />
      <Tx x={882} y={508} s={24}>****</Tx>
      <Ln x1={853} y1={512} x2={909} y2={512} w={2} />
      <Tx x={642} y={1019} s={21}>ISO</Tx>
      <Tx x={640} y={1062} s={21}>FSK</Tx>
      <Tx x={583} y={752} s={22} r={-90}>Fold-change</Tx>
      <Tx x={611} y={752} s={22} r={-90}>(G<Sub>ISO</Sub> or G<Sub>FSK</Sub>/G<Sub>CON</Sub>)</Tx>

      {/* f */}
      <Tx x={1113} y={523} s={22}>****</Tx>
      <Ln x1={1149} y1={488} x2={1149} y2={558} w={2} />
      <Tx x={1113} y={648} s={22}>****</Tx>
      <Ln x1={1149} y1={615} x2={1149} y2={683} w={2} />
      <Tx x={1125} y={768} s={21}>NS</Tx>
      <Ln x1={1149} y1={750} x2={1149} y2={819} w={2} />
      <Tx x={1125} y={894} s={21}>NS</Tx>
      <Ln x1={1149} y1={867} x2={1149} y2={935} w={2} />
      <Ln x1={1695} y1={465} x2={1695} y2={694} w={2.5} />
      <Tx x={1728} y={564} s={22}>WT</Tx>
      <Ln x1={1695} y1={748} x2={1695} y2={977} w={2.5} />
      <Tx x={1752} y={860} s={21} c={RED}>4SA-Rad</Tx>
      <Tx x={1342} y={1036} s={21}>Voltatge (mV)</Tx>

      {/* g */}
      <Tx x={250} y={1187} s={21}>Atrial</Tx>
      <Tx x={418} y={1204} s={21}>+30 mV</Tx>
      <Tx x={110} y={1237} s={21}>Voltage ramp</Tx>
      <Tx x={45} y={1308} s={21}>{'\u221260 mV'}</Tx>
      <Tx x={252} y={1328} s={21}>WT</Tx>
      <Ln x1={55} y1={1404} x2={172} y2={1404} w={3} />
      <Tx x={120} y={1423} s={20}>50 ms</Tx>
      <Ln x1={390} y1={1383} x2={390} y2={1414} w={3} />
      <Tx x={408} y={1399} s={16} r={-90}><PerPf n={3} /></Tx>
      <Arrow x1={192} y1={1466} x2={209} y2={1434} />
      <Tx x={191} y={1484} s={15} c={SKY}>Isoproterenol</Tx>
      <Tx x={268} y={1549} s={21} c={RED}>4SA-Rad</Tx>
      <Ln x1={57} y1={1605} x2={177} y2={1605} w={3} />
      <Tx x={121} y={1626} s={20}>50 ms</Tx>
      <Ln x1={411} y1={1585} x2={411} y2={1616} w={3} />
      <Tx x={424} y={1603} s={16} r={-90}><PerPf n={3} /></Tx>

      {/* h */}
      <Tx x={524} y={1411} s={21} r={-90}>Fold-change (G<Sub>ISO</Sub>/G<Sub>CON</Sub>)</Tx>
      <Tx x={805} y={1725} s={21}>Time (min)</Tx>
      <Tx x={881} y={1176} s={19} c={H_BLUE}>Atrial WT</Tx>
      <Tx x={893} y={1421} s={19}>Ventricle WT</Tx>
      <Tx x={892} y={1543} s={19}>Atrial 4SA-Rad</Tx>
      <Tx x={920} y={1615} s={19}>Ventricle 4SA-Rad</Tx>
      <Tx x={666} y={1527} s={17} r={-90}>ISO</Tx>
      <Arrow x1={666} y1={1552} x2={666} y2={1580} />

      {/* i */}
      <Tx x={1077} y={1412} s={21} r={-90}>Fold-change (G<Sub>ISO</Sub>/G<Sub>CON</Sub>)</Tx>
      <Tx x={1440} y={1726} s={21}>Voltage (mV)</Tx>
      <Tx x={1244} y={1236} s={19} c={I_BLUE}>Atrial WT</Tx>
      <Tx x={1445} y={1483} s={19}>Ventricle WT</Tx>
      <Tx x={1238} y={1503} s={19} c={I_BROWN}>Atrial 4SA-Rad</Tx>
      <Tx x={1255} y={1575} s={19} c={I_RED}>Ventricle 4SA-Rad</Tx>
    </svg>
  );
}

export default function App() {
  return (
    <div style={{ position: 'absolute', left: 0, top: 0, width: 1800, height: 1744, background: '#fff', fontFamily: FONT, overflow: 'hidden' }}>
      <IvPanel plot={{ l: 86, t: 92, r: 473, b: 382 }} xDomain={[-58.9, 42.9]} lineFrom={-54.5} yBottom={-32.1}
        volts={aVolt} ctrl={aWtCtrl} iso={aWtIso} />
      <IvPanel plot={{ l: 635, t: 90, r: 1043, b: 393 }} xDomain={[-56.5, 45.2]} lineFrom={-54.9} yBottom={-32.9}
        volts={bVolt} ctrl={bRadCtrl} iso={bRadIso} square />
      <TraceBox l={98} t={228} w={119} h={85} time={aBlackTime} tMax={177} vDomain={[-15, 2]} traces={aBlackTraces} color={INK} sw={1.4} />
      <TraceBox l={383} t={229} w={151} h={165} time={aBlueTime} tMax={226} vDomain={[-31, 2]} traces={aBlueTraces} color={SKY} sw={1.4} />
      <TraceBox l={654} t={242} w={155} h={123} time={bBlackTime} tMax={149} vDomain={[-17, 1.5]} traces={bBlackTraces} color={INK} sw={2} />
      <TraceBox l={904} t={237} w={153} h={117} time={bBlueTime} tMax={147} vDomain={[-16, 1.5]} traces={bBlueTraces} color={SKY} sw={2} />

      <VoltRamp l={1207} t={43} w={299} h={52} />
      <RampBox l={1202} t={180} w={352} h={84} time={cWtTime} tMax={156} vDomain={[-7.2, 1.2]} ctrl={cWtCtrl} iso={cWtIso} filled />
      <RampBox l={1202} t={322} w={352} h={60} time={cRadTime} tMax={156} vDomain={[-4.8, 0.8]} ctrl={cRadCtrl} iso={cRadIso} />

      <PanelD />
      <PanelE />
      <PanelF />

      <VoltRamp l={48} t={1232} w={352} h={61} />
      <RampBox l={48} t={1322} w={352} h={107} time={gWtTime} tMax={150} vDomain={[-9.5, 1.2]} ctrl={gWtCtrl} iso={gWtIso} filled />
      <RampBox l={45} t={1546} w={355} h={53} time={gRadTime} tMax={150} vDomain={[-4.5, 0.6]} ctrl={gRadCtrl} iso={gRadIso} />

      <PanelH />
      <PanelI />
      <Overlay />
    </div>
  );
}
